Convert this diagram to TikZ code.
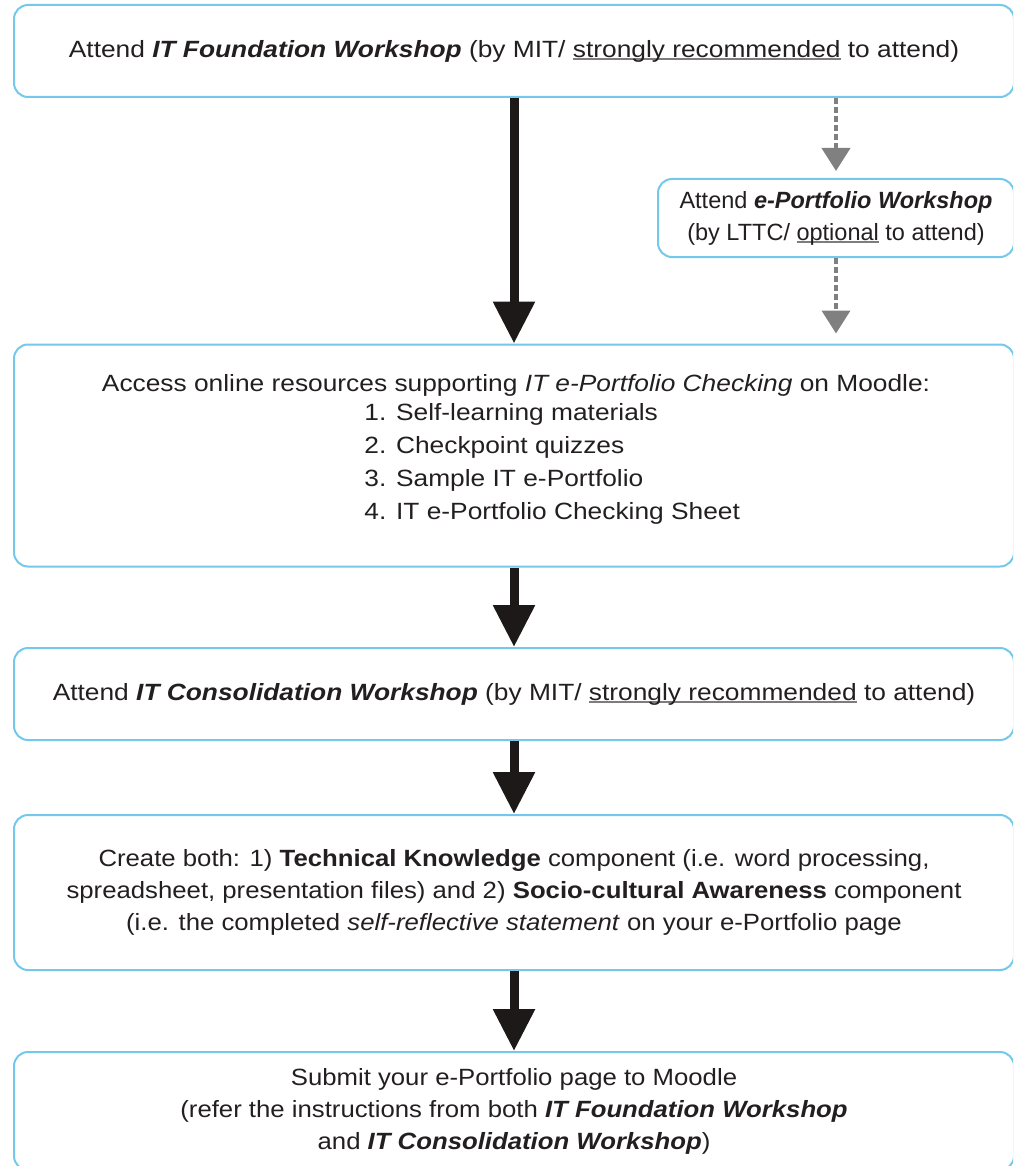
\documentclass[tikz,border=0pt]{standalone}
\usepackage{fontspec}
\setmainfont[FakeStretch=1.12]{Liberation Sans}
\newfontfamily\optfont{Liberation Sans}
\newfontfamily\lowfont[FakeStretch=1.095]{Liberation Sans}
\usetikzlibrary{arrows.meta}
\definecolor{boxline}{RGB}{115,200,235}
\definecolor{txtc}{RGB}{35,31,32}
\definecolor{arrc}{RGB}{30,25,25}
\definecolor{optc}{RGB}{128,128,128}
\definecolor{ulc}{RGB}{125,125,125}
\newsavebox\ulbox
\newcommand{\gul}[1]{\sbox\ulbox{#1}\rlap{\textcolor{ulc}{\rule[-1.6pt]{\wd\ulbox}{0.9pt}}}\usebox\ulbox}
\newcommand{\bi}[1]{\textbf{\textit{#1}}}
\tikzset{
  stepbox/.style={draw=boxline, line width=1pt, rounded corners=7pt, inner sep=0pt,
    text=txtc, align=center, font=\fontsize{11.75}{16}\selectfont},
  txt/.style={inner sep=0pt, text=txtc, font=\fontsize{11.75}{16.5}\selectfont},
  mainarr/.style={draw=arrc, line width=4.5pt, -{Triangle[width=20pt,length=21pt]}},
  optarr/.style={draw=optc, line width=2pt, dash pattern=on 3pt off 1.5pt,
    -{Triangle[width=14pt,length=11.5pt]}},
}
\begin{document}
\begin{tikzpicture}[x=0.5pt,y=-0.5pt]
\clip(0,0)rectangle(1013,1166);
%
\node[stepbox, minimum width=500pt, minimum height=46pt](found)at(514,51)
  {Attend \bi{IT Foundation Workshop} (by MIT/ \gul{strongly recommended} to attend)};
\node[stepbox, minimum width=178pt, minimum height=39pt](eport)at(836,218)
  {\optfont Attend \bi{e-Portfolio Workshop}\\\optfont(by LTTC/ \gul{optional} to attend)};
\node[stepbox, minimum width=500pt, minimum height=111pt](res)at(514,455.5){};
\node[txt](resh)at(516,385)
  {Access online resources supporting \textit{IT e-Portfolio Checking} on Moodle:};
\node[txt, align=left, anchor=west](resl)at(364,464)
  {1. Self-learning materials\\2. Checkpoint quizzes\\3. Sample IT e-Portfolio\\4. IT e-Portfolio Checking Sheet};
\node[stepbox, minimum width=500pt, minimum height=46pt](consol)at(514,694)
  {Attend \bi{IT Consolidation Workshop} (by MIT/ \gul{strongly recommended} to attend)};
\node[stepbox, minimum width=500pt, minimum height=77.5pt](create)at(514,892.5)
  {\lowfont Create both: 1) \textbf{Technical Knowledge} component (i.e. word processing,\\
   \lowfont spreadsheet, presentation files) and 2) \textbf{Socio-cultural Awareness} component\\
   \lowfont (i.e. the completed \textit{self-reflective statement} on your e-Portfolio page};
\node[stepbox, minimum width=500pt, minimum height=59pt](submit)at(514,1111)
  {\lowfont Submit your e-Portfolio page to Moodle\\
   \lowfont (refer the instructions from both \bi{IT Foundation Workshop}\\
   \lowfont and \bi{IT Consolidation Workshop})};
%
\draw[mainarr](found.south)--(res.north);
\draw[mainarr](res.south)--(consol.north);
\draw[mainarr](consol.south)--(create.north);
\draw[mainarr](create.south)--(submit.north);
%
\draw[optarr, shorten >=3.5pt](found.south -| eport.north)--(eport.north);
\draw[optarr, shorten >=5pt](eport.south)--(eport.south |- res.north);
\end{tikzpicture}
\end{document}
